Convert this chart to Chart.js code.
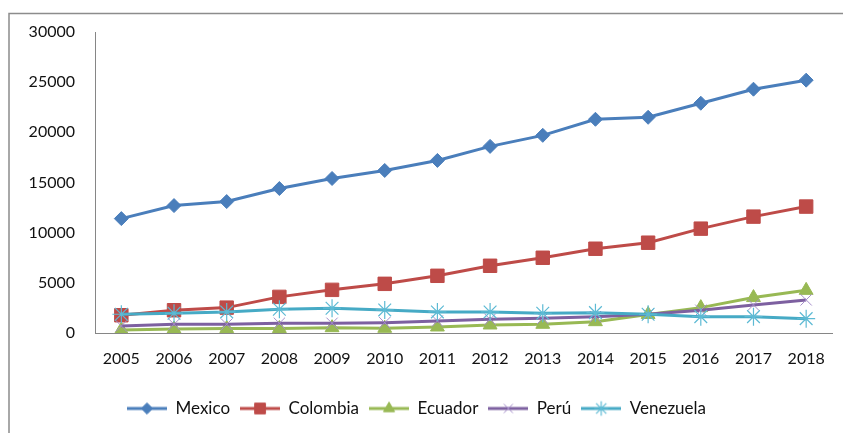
<!DOCTYPE html>
<html>
<head>
<meta charset="utf-8">
<script src="https://cdn.jsdelivr.net/npm/chart.js@4/dist/chart.umd.min.js"></script>
<style>
  html, body { margin: 0; padding: 0; background: #fff; }
  #wrap { width: 843px; height: 433px; position: relative; }
</style>
</head>
<body>
<div id="wrap"><canvas id="lineChart"></canvas></div>
<script>
// data
const years = ['2005', '2006', '2007', '2008', '2009', '2010', '2011',
  '2012', '2013', '2014', '2015', '2016', '2017', '2018'];

const mexico = [11400, 12700, 13100, 14400, 15400, 16200, 17200, 18600, 19700, 21300, 21500, 22900, 24300, 25200];
const colombia = [1770, 2270, 2530, 3600, 4300, 4900, 5700, 6700, 7500, 8400, 9000, 10400, 11600, 12600];
const ecuador = [300, 400, 450, 450, 530, 470, 600, 800, 870, 1130, 1850, 2530, 3530, 4250];
const peru = [700, 870, 870, 970, 970, 1030, 1200, 1370, 1470, 1630, 1870, 2270, 2800, 3300];
const venezuela = [1870, 1970, 2100, 2370, 2470, 2300, 2100, 2100, 1970, 2030, 1870, 1630, 1630, 1430];

const yTicks = [0, 5000, 10000, 15000, 20000, 25000, 30000];

const FONT = 'Lato';
const TEXT = '#111';

// marker look per series
const series = [
  {label: 'Mexico', data: mexico, line: '#4A7EBB', marker: '#4A7EBB', style: 'rectRot', radius: 7, bw: 1},
  {label: 'Colombia', data: colombia, line: '#BE4B48', marker: '#BE4B48', style: 'rect', radius: 9.5, bw: 1},
  {label: 'Ecuador', data: ecuador, line: '#98B954', marker: '#98B954', style: 'triangle', radius: 8, bw: 1},
  {label: 'Perú', data: peru, line: '#7D60A0', marker: '#A58ECA', style: 'crossRot', radius: 8, bw: 1},
  {label: 'Venezuela', data: venezuela, line: '#46AAC5', marker: '#5DBAD4', style: 'star', radius: 9, bw: 1.2},
];

// legend sample: short line with marker in the middle
function legendSample(s) {
  const c = document.createElement('canvas');
  c.width = 40; c.height = 20;
  const ctx = c.getContext('2d');
  ctx.strokeStyle = s.line;
  ctx.lineWidth = 3;
  ctx.beginPath();
  ctx.moveTo(0, 10);
  ctx.lineTo(40, 10);
  ctx.stroke();
  ctx.fillStyle = s.marker;
  ctx.strokeStyle = s.marker;
  ctx.lineWidth = s.bw;
  Chart.helpers.drawPoint(ctx, {pointStyle: s.style, radius: s.radius * 0.8, borderWidth: s.bw, rotation: 0}, 20, 10);
  return c;
}

const datasets = series.map((s, i) => ({
  label: s.label,
  data: s.data,
  borderColor: s.line,
  backgroundColor: s.marker,
  borderWidth: 3,
  pointStyle: s.style,
  pointRadius: s.radius,
  pointBorderColor: s.marker,
  pointBackgroundColor: s.marker,
  pointBorderWidth: s.bw,
  tension: 0,
  order: series.length - i,
}));

const framePlugin = {
  id: 'frame',
  beforeDraw(chart) {
    const ctx = chart.ctx;
    ctx.save();
    ctx.strokeStyle = '#8c8c8c';
    ctx.lineWidth = 1.5;
    ctx.beginPath();
    ctx.moveTo(9, 433);
    ctx.lineTo(9, 13.5);
    ctx.lineTo(843, 13.5);
    ctx.stroke();
    ctx.restore();
  }
};

const config = {
  type: 'line',
  data: {labels: years, datasets: datasets},
  options: {
    responsive: true,
    maintainAspectRatio: false,
    animation: false,
    layout: {
      padding: {top: 32, right: 10, left: 0, bottom: 6}
    },
    plugins: {
      legend: {
        position: 'bottom',
        labels: {
          usePointStyle: true,
          pointStyleWidth: 40,
          boxHeight: 16,
          padding: 10,
          color: TEXT,
          font: {family: FONT, size: 17},
          generateLabels: function(chart) {
            return series.map((s, i) => ({
              text: s.label,
              pointStyle: legendSample(s),
              fillStyle: s.marker,
              strokeStyle: s.line,
              lineWidth: 0,
              hidden: false,
              datasetIndex: i,
              fontColor: TEXT,
            }));
          }
        }
      },
      tooltip: {enabled: false}
    },
    scales: {
      x: {
        offset: true,
        grid: {display: false, drawTicks: false},
        border: {display: true, color: '#868686', width: 1},
        ticks: {
          color: TEXT,
          padding: 16,
          maxRotation: 0,
          autoSkip: false,
          font: {family: FONT, size: 16}
        },
        afterFit: function(scale) { scale.height = 57; }
      },
      y: {
        min: 0,
        max: 30000,
        grid: {display: false, drawTicks: false},
        border: {display: true, color: '#868686', width: 1},
        afterBuildTicks: function(scale) {
          scale.ticks = yTicks.map(v => ({value: v}));
        },
        ticks: {
          color: TEXT,
          padding: 20,
          font: {family: FONT, size: 16},
          callback: function(value) { return String(value); }
        },
        afterFit: function(scale) { scale.width = 95; }
      }
    }
  },
  plugins: [framePlugin]
};

var lineChart = document.getElementById('lineChart');
const myLineChart = new Chart(lineChart, config);
</script>
</body>
</html>
